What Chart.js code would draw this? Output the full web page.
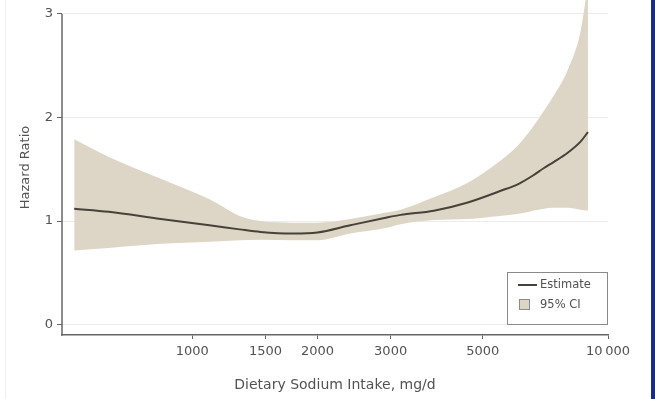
<!DOCTYPE html>
<html>
<head>
<meta charset="utf-8">
<title>Dietary Sodium Intake and Hazard Ratio</title>
<script src="https://cdn.jsdelivr.net/npm/chart.js@4.4.1/dist/chart.umd.min.js"></script>
<style>
  html, body { margin: 0; padding: 0; background: #ffffff; }
  #wrap { position: relative; width: 655px; height: 399px; overflow: hidden; }
  #chart { position: absolute; left: 0; top: 0; }
  #edgeRight { position: absolute; right: 0; top: 0; width: 4px; height: 399px; background: #1d2d7d; }
  #edgeLeft { position: absolute; left: 5px; top: 0; width: 1px; height: 399px; background: #f0f0f0; }
</style>
</head>
<body>
<div id="wrap">
  <canvas id="chart" width="655" height="399"></canvas>
  <div id="edgeLeft"></div>
  <div id="edgeRight"></div>
</div>
<script>
// Dietary sodium intake (mg/d) at which the spline is evaluated
const sodium   = [520, 630, 840, 1100, 1300, 1460, 1750, 2000, 2400, 2900, 3170, 3810, 4600, 5500, 6100, 6600, 7000, 7400, 8000, 8600, 8950];
// Hazard ratio estimate
const estimate = [1.12, 1.09, 1.02, 0.96, 0.92, 0.895, 0.88, 0.89, 0.96, 1.03, 1.06, 1.10, 1.18, 1.29, 1.36, 1.44, 1.51, 1.57, 1.66, 1.77, 1.86];
// 95% confidence interval bounds
const ciLower  = [0.715, 0.74, 0.78, 0.80, 0.815, 0.82, 0.815, 0.815, 0.88, 0.93, 0.97, 1.01, 1.02, 1.05, 1.07, 1.10, 1.12, 1.13, 1.13, 1.11, 1.10];
const ciUpper  = [1.79, 1.62, 1.41, 1.21, 1.05, 1.00, 0.985, 0.985, 1.02, 1.08, 1.11, 1.23, 1.37, 1.58, 1.74, 1.91, 2.06, 2.21, 2.46, 2.84, 3.30];

// Axis ticks
const hrTicks          = [0, 1, 2, 3];
const sodiumTicks      = [1000, 1500, 2000, 3000, 5000, 10000];
const sodiumTickLabels = ['1000', '1500', '2000', '3000', '5000', '10\u2009000'];

const LINE_COLOR = '#46423a';
const BAND_COLOR = '#ddd6c7';
const AXIS_COLOR = '#666666';
const TEXT_COLOR = '#525252';

const toPoints = ys => sodium.map((x, i) => ({ x: x, y: ys[i] }));

Chart.defaults.font.family = '"DejaVu Sans", sans-serif';
Chart.defaults.color = TEXT_COLOR;

// Vertical axis line, starting at the top tick rather than the chart edge
const yAxisLine = {
  id: 'yAxisLine',
  afterDatasetsDraw(chart) {
    const y = chart.scales.y;
    const ctx = chart.ctx;
    ctx.save();
    ctx.strokeStyle = AXIS_COLOR;
    ctx.lineWidth = 1.5;
    ctx.beginPath();
    ctx.moveTo(chart.chartArea.left, y.getPixelForValue(hrTicks[hrTicks.length - 1]));
    ctx.lineTo(chart.chartArea.left, chart.chartArea.bottom + 0.75);
    ctx.stroke();
    ctx.restore();
  }
};

// Boxed legend in the lower-right corner of the plot
const boxLegend = {
  id: 'boxLegend',
  afterDraw(chart) {
    const ctx = chart.ctx;
    const area = chart.chartArea;
    const w = 101, h = 53;
    const x0 = area.right - w, y0 = area.bottom - 10 - h;
    ctx.save();
    ctx.fillStyle = '#ffffff';
    ctx.fillRect(x0, y0, w, h);
    ctx.strokeStyle = '#8a8a8a';
    ctx.lineWidth = 1;
    ctx.strokeRect(x0 + 0.5, y0 + 0.5, w - 1, h - 1);

    const est = chart.data.datasets[0];
    const ci = chart.data.datasets[1];
    // line sample
    ctx.strokeStyle = est.borderColor;
    ctx.lineWidth = 2;
    ctx.beginPath();
    ctx.moveTo(x0 + 11, y0 + 13);
    ctx.lineTo(x0 + 30, y0 + 13);
    ctx.stroke();
    // band sample
    ctx.fillStyle = ci.backgroundColor;
    ctx.fillRect(x0 + 12, y0 + 27, 11, 11);
    ctx.strokeStyle = '#8a8a8a';
    ctx.lineWidth = 1;
    ctx.strokeRect(x0 + 12.5, y0 + 27.5, 10, 10);

    ctx.fillStyle = TEXT_COLOR;
    ctx.font = '11.5px "DejaVu Sans", sans-serif';
    ctx.textBaseline = 'middle';
    ctx.textAlign = 'left';
    ctx.fillText(est.label, x0 + 33, y0 + 13);
    ctx.fillText(ci.label, x0 + 33, y0 + 33);
    ctx.restore();
  }
};

new Chart(document.getElementById('chart'), {
  type: 'line',
  data: {
    datasets: [
      {
        label: 'Estimate',
        data: toPoints(estimate),
        borderColor: LINE_COLOR,
        borderWidth: 2,
        pointRadius: 0,
        fill: false,
        cubicInterpolationMode: 'monotone',
        order: 0
      },
      {
        label: '95% CI',
        data: toPoints(ciUpper),
        borderColor: 'rgba(0,0,0,0)',
        borderWidth: 0,
        backgroundColor: BAND_COLOR,
        pointRadius: 0,
        fill: '+1',
        cubicInterpolationMode: 'monotone',
        order: 1
      },
      {
        label: '95% CI lower',
        data: toPoints(ciLower),
        borderColor: 'rgba(0,0,0,0)',
        borderWidth: 0,
        backgroundColor: BAND_COLOR,
        pointRadius: 0,
        fill: false,
        cubicInterpolationMode: 'monotone',
        order: 2
      }
    ]
  },
  options: {
    responsive: false,
    animation: false,
    layout: { padding: { left: 0, top: 0, right: 47, bottom: 0 } },
    plugins: {
      legend: { display: false },
      tooltip: { enabled: false }
    },
    scales: {
      x: {
        type: 'logarithmic',
        min: 486,
        max: 10000,
        afterFit(scale) { scale.height = 64; },
        afterBuildTicks(scale) { scale.ticks = sodiumTicks.map(v => ({ value: v })); },
        ticks: {
          autoSkip: false,
          maxRotation: 0,
          padding: 5,
          color: TEXT_COLOR,
          font: { size: 13 },
          callback: (value) => {
            const i = sodiumTicks.indexOf(value);
            return i >= 0 ? sodiumTickLabels[i] : '';
          }
        },
        grid: {
          drawOnChartArea: false,
          drawTicks: true,
          tickLength: 4,
          tickColor: AXIS_COLOR
        },
        border: { display: true, color: AXIS_COLOR, width: 1.5 },
        title: {
          display: true,
          text: 'Dietary Sodium Intake, mg/d',
          color: TEXT_COLOR,
          font: { size: 14 },
          padding: { top: 0, bottom: 5 }
        }
      },
      y: {
        type: 'linear',
        min: -0.1,
        max: 3.135,
        afterFit(scale) {
          scale.width = 62;
          scale.paddingTop = 0;
          scale.paddingBottom = 0;
        },
        afterBuildTicks(scale) { scale.ticks = hrTicks.map(v => ({ value: v })); },
        ticks: {
          padding: 4,
          color: TEXT_COLOR,
          font: { size: 13 }
        },
        grid: {
          color: '#ececf0',
          lineWidth: 1,
          drawTicks: true,
          tickLength: 5,
          tickColor: AXIS_COLOR
        },
        border: { display: false },
        title: {
          display: true,
          text: 'Hazard Ratio',
          color: TEXT_COLOR,
          font: { size: 13 },
          padding: { top: 18, bottom: 0 }
        }
      }
    }
  },
  plugins: [yAxisLine, boxLegend]
});
</script>
</body>
</html>
